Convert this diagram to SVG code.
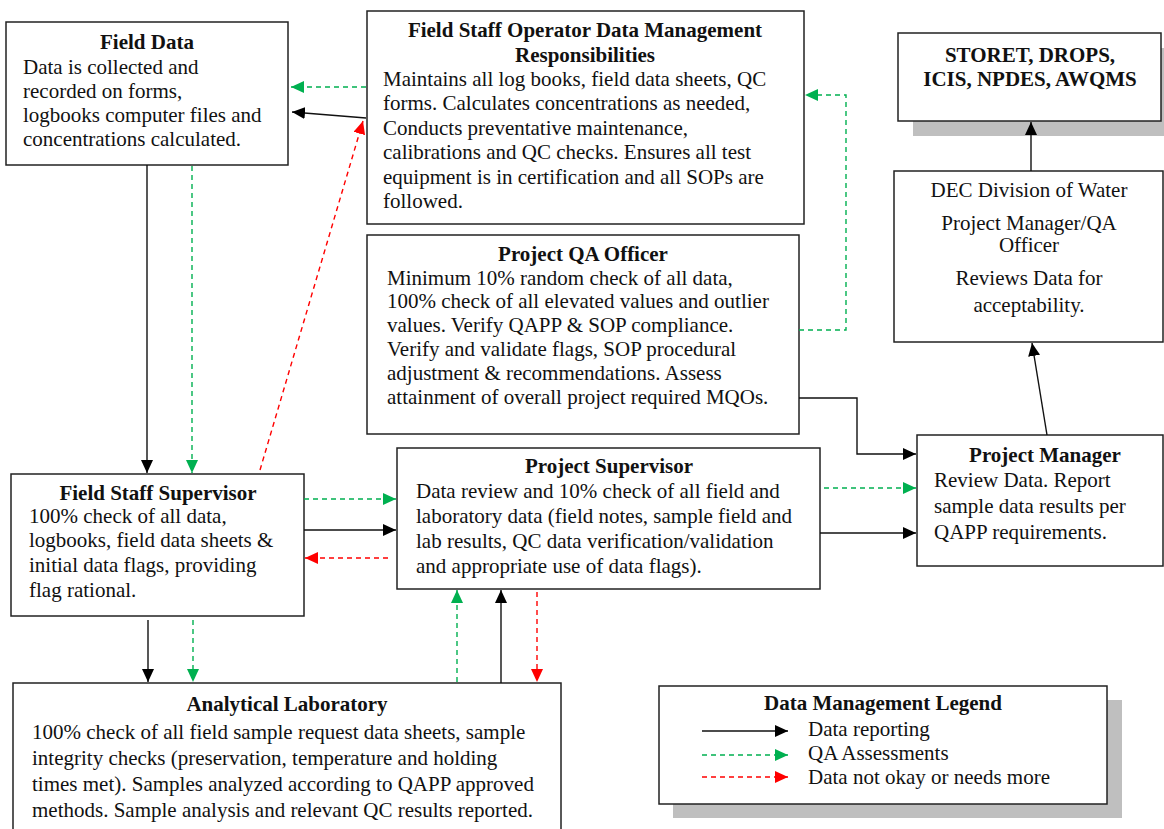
<svg xmlns="http://www.w3.org/2000/svg" width="1164" height="829" viewBox="0 0 1164 829">
<style>
.box{fill:#fff;stroke:#222;stroke-width:1.5}
.shadow{fill:#bfbfbf;stroke:none}
text{font-family:"Liberation Serif","Times New Roman",serif;font-size:21px;fill:#111}
.t{font-weight:bold;text-anchor:middle}
.c{text-anchor:middle}
.blk{stroke:#111;stroke-width:1.4;fill:none}
.grn{stroke:#00b050;stroke-width:1.4;fill:none;stroke-dasharray:5,4}
.red{stroke:#ff0000;stroke-width:1.4;fill:none;stroke-dasharray:5,4}
</style>
<defs>
<marker id="ab" markerUnits="userSpaceOnUse" markerWidth="13" markerHeight="12" refX="13" refY="6" orient="auto"><path d="M0,0 L13,6 L0,12 z" fill="#000"/></marker>
<marker id="ag" markerUnits="userSpaceOnUse" markerWidth="13" markerHeight="12" refX="13" refY="6" orient="auto"><path d="M0,0 L13,6 L0,12 z" fill="#00b050"/></marker>
<marker id="ar" markerUnits="userSpaceOnUse" markerWidth="13" markerHeight="12" refX="13" refY="6" orient="auto"><path d="M0,0 L13,6 L0,12 z" fill="#ff0000"/></marker>
</defs>
<rect width="1164" height="829" fill="#fff"/>

<g id="field-data">
<rect class="box" x="6" y="22" width="282" height="143"/>
<text class="t" x="147" y="49">Field Data</text>
<text x="23" y="74">Data is collected and</text>
<text x="23" y="98">recorded on forms,</text>
<text x="23" y="122">logbooks computer files and</text>
<text x="23" y="146">concentrations calculated.</text>
</g>

<g id="field-staff-operator">
<rect class="box" x="367" y="11" width="437" height="213"/>
<text class="t" x="585" y="37">Field Staff Operator Data Management</text>
<text class="t" x="585" y="62">Responsibilities</text>
<text x="383" y="86">Maintains all log books, field data sheets, QC</text>
<text x="383" y="110">forms. Calculates concentrations as needed,</text>
<text x="383" y="135">Conducts preventative maintenance,</text>
<text x="383" y="159">calibrations and QC checks. Ensures all test</text>
<text x="383" y="184">equipment is in certification and all SOPs are</text>
<text x="383" y="208">followed.</text>
</g>

<g id="storet">
<rect class="shadow" x="913" y="48" width="251" height="88"/>
<rect class="box" x="898" y="33" width="263" height="88"/>
<text class="t" x="1030" y="62">STORET, DROPS,</text>
<text class="t" x="1030" y="86">ICIS, NPDES, AWQMS</text>
</g>

<g id="dec">
<rect class="box" x="894" y="171" width="269" height="171"/>
<text class="c" x="1029" y="197">DEC Division of Water</text>
<text class="c" x="1029" y="230">Project Manager/QA</text>
<text class="c" x="1029" y="252">Officer</text>
<text class="c" x="1029" y="285">Reviews Data for</text>
<text class="c" x="1029" y="312">acceptability.</text>
</g>

<g id="qa-officer">
<rect class="box" x="367" y="235" width="432" height="199"/>
<text class="t" x="583" y="261">Project QA Officer</text>
<text x="387" y="285">Minimum 10% random check of all data,</text>
<text x="387" y="308">100% check of all elevated values and outlier</text>
<text x="387" y="332">values. Verify QAPP &amp; SOP compliance.</text>
<text x="387" y="356">Verify and validate flags, SOP procedural</text>
<text x="387" y="380">adjustment &amp; recommendations. Assess</text>
<text x="387" y="404">attainment of overall project required MQOs.</text>
</g>

<g id="field-staff-supervisor">
<rect class="box" x="11" y="474" width="293" height="142"/>
<text class="t" x="158" y="500">Field Staff Supervisor</text>
<text x="29" y="523">100% check of all data,</text>
<text x="29" y="547">logbooks, field data sheets &amp;</text>
<text x="29" y="572">initial data flags, providing</text>
<text x="29" y="597">flag rational.</text>
</g>

<g id="project-supervisor">
<rect class="box" x="397" y="448" width="423" height="141"/>
<text class="t" x="609" y="473">Project Supervisor</text>
<text x="416" y="498">Data review and 10% check of all field and</text>
<text x="416" y="523">laboratory data (field notes, sample field and</text>
<text x="416" y="548">lab results, QC data verification/validation</text>
<text x="416" y="573">and appropriate use of data flags).</text>
</g>

<g id="project-manager">
<rect class="box" x="917" y="435" width="246" height="131"/>
<text class="t" x="1045" y="462">Project Manager</text>
<text x="934" y="487">Review Data. Report</text>
<text x="934" y="513">sample data results per</text>
<text x="934" y="539">QAPP requirements.</text>
</g>

<g id="analytical-lab">
<rect class="box" x="13" y="683" width="548" height="150"/>
<text class="t" x="287" y="711">Analytical Laboratory</text>
<text x="32" y="739">100% check of all field sample request data sheets, sample</text>
<text x="32" y="765">integrity checks (preservation, temperature and holding</text>
<text x="32" y="791">times met). Samples analyzed according to QAPP approved</text>
<text x="32" y="817">methods. Sample analysis and relevant QC results reported.</text>
</g>

<g id="legend">
<rect class="shadow" x="673" y="700" width="449" height="118"/>
<rect class="box" x="659" y="686" width="448" height="118"/>
<text class="t" x="883" y="710">Data Management Legend</text>
<line class="blk" x1="702" y1="731" x2="788" y2="731" marker-end="url(#ab)"/>
<line class="grn" x1="702" y1="755" x2="788" y2="755" marker-end="url(#ag)"/>
<line class="red" x1="702" y1="777" x2="788" y2="777" marker-end="url(#ar)"/>
<text x="808" y="736">Data reporting</text>
<text x="808" y="760">QA Assessments</text>
<text x="808" y="784">Data not okay or needs more</text>
</g>

<g id="connectors">
<line class="grn" x1="366" y1="87" x2="291" y2="87" marker-end="url(#ag)"/>
<line class="blk" x1="366" y1="118" x2="292" y2="112" marker-end="url(#ab)"/>
<line class="red" x1="260" y1="470" x2="363" y2="121" marker-end="url(#ar)"/>
<line class="blk" x1="147" y1="165" x2="147" y2="473" marker-end="url(#ab)"/>
<line class="grn" x1="192" y1="166" x2="192" y2="473" marker-end="url(#ag)"/>
<polyline class="grn" points="799,330 846,330 846,95 805,95" marker-end="url(#ag)"/>
<polyline class="blk" points="799,398 857,398 857,454 916,454" marker-end="url(#ab)"/>
<line class="grn" x1="824" y1="488" x2="916" y2="488" marker-end="url(#ag)"/>
<line class="blk" x1="820" y1="533" x2="916" y2="533" marker-end="url(#ab)"/>
<line class="blk" x1="1047" y1="435" x2="1032" y2="343" marker-end="url(#ab)"/>
<line class="blk" x1="1031" y1="171" x2="1031" y2="122" marker-end="url(#ab)"/>
<line class="grn" x1="304" y1="499" x2="396" y2="499" marker-end="url(#ag)"/>
<line class="blk" x1="304" y1="530" x2="396" y2="530" marker-end="url(#ab)"/>
<line class="red" x1="388" y1="558" x2="305" y2="558" marker-end="url(#ar)"/>
<line class="blk" x1="148" y1="620" x2="148" y2="682" marker-end="url(#ab)"/>
<line class="grn" x1="193" y1="620" x2="193" y2="682" marker-end="url(#ag)"/>
<line class="grn" x1="457" y1="682" x2="457" y2="590" marker-end="url(#ag)"/>
<line class="blk" x1="501" y1="683" x2="501" y2="590" marker-end="url(#ab)"/>
<line class="red" x1="537" y1="592" x2="537" y2="682" marker-end="url(#ar)"/>
</g>
</svg>
